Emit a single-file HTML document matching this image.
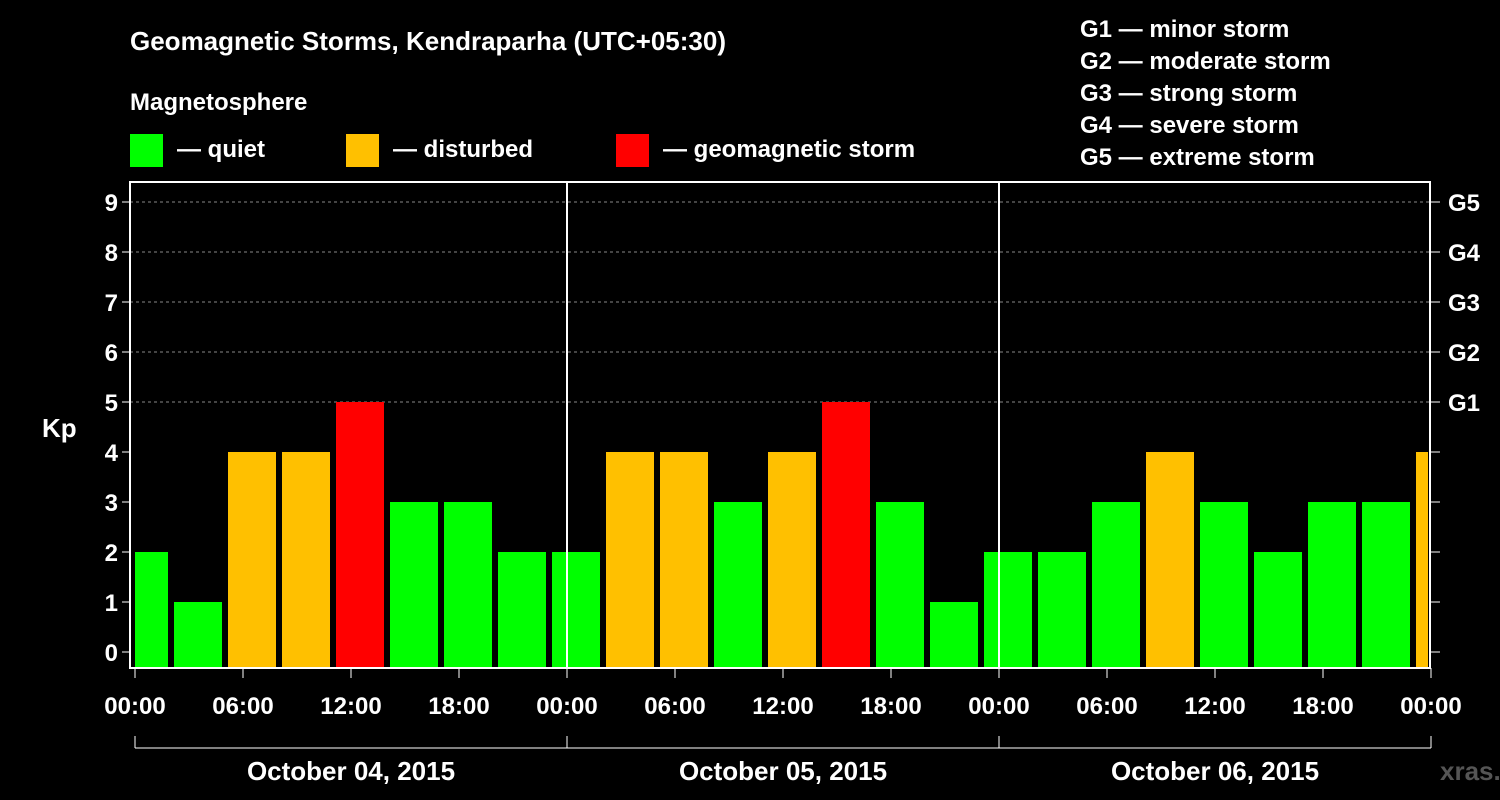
<!DOCTYPE html>
<html><head><meta charset="utf-8"><style>
html,body{margin:0;padding:0;background:#000;}
svg{display:block;font-family:"Liberation Sans",Arial,sans-serif;font-weight:bold;}
</style></head><body>
<svg id="chart" width="1500" height="800" viewBox="0 0 1500 800">
<rect width="1500" height="800" fill="#000"/>
<text x="130" y="50" fill="#fff" font-size="26">Geomagnetic Storms, Kendraparha (UTC+05:30)</text>
<text x="130" y="110" fill="#fff" font-size="24">Magnetosphere</text>
<g><rect x="130" y="134" width="33" height="33" fill="#00ff00"/><text x="177" y="157" fill="#fff" font-size="24">— quiet</text></g>
<g><rect x="346" y="134" width="33" height="33" fill="#ffc000"/><text x="393" y="157" fill="#fff" font-size="24">— disturbed</text></g>
<g><rect x="616" y="134" width="33" height="33" fill="#ff0000"/><text x="663" y="157" fill="#fff" font-size="24">— geomagnetic storm</text></g>
<g font-size="24" fill="#fff">
<text x="1080" y="37">G1 — minor storm</text>
<text x="1080" y="69">G2 — moderate storm</text>
<text x="1080" y="101">G3 — strong storm</text>
<text x="1080" y="133">G4 — severe storm</text>
<text x="1080" y="165">G5 — extreme storm</text>
</g>
<text x="42" y="437" fill="#fff" font-size="26">Kp</text>
<text x="1440" y="780" fill="#555" font-size="26">xras.ru</text>
<g id="plot"></g>
</svg>
<script>
const kpValues=[2,1,4,4,5,3,3,2,2,4,4,3,4,5,3,1,2,2,3,4,3,2,3,3,4];
const yTicks=[0,1,2,3,4,5,6,7,8,9];
const gLabels=["G1","G2","G3","G4","G5"];
const timeLabels=["00:00","06:00","12:00","18:00","00:00","06:00","12:00","18:00","00:00","06:00","12:00","18:00","00:00"];
const dayLabels=["October 04, 2015","October 05, 2015","October 06, 2015"];
const NS="http://www.w3.org/2000/svg";
const plot=document.getElementById('plot');
const L=130,R=1430,T=182,B=668,X0=135,DAY=432;
const y=v=>652-50*v;
const xh=h=>X0+18*h;
function mk(tag,attrs,parent){const e=document.createElementNS(NS,tag);for(const k in attrs)e.setAttribute(k,attrs[k]);(parent||plot).appendChild(e);return e;}
// grid
yTicks.forEach(v=>{
 if(v>=5){const g=mk('line',{x1:L,x2:R,y1:y(v),y2:y(v),stroke:'#888','stroke-dasharray':'3,3','stroke-width':1});
 
 }
 const t=mk('text',{x:118,y:y(v)+9,fill:'#fff','font-size':24,'text-anchor':'end'});t.textContent=v;
 
 
 mk('line',{x1:122,x2:L,y1:y(v),y2:y(v),stroke:'#fff','stroke-width':1});
 mk('line',{x1:R,x2:1440,y1:y(v),y2:y(v),stroke:'#fff','stroke-width':1});
});
gLabels.forEach((g,i)=>{const t=mk('text',{x:1448,y:y(5+i)+9,fill:'#fff','font-size':24});t.textContent=g;
 
 });
// bars
kpValues.forEach((v,i)=>{
 let x1=X0-15+54*i,x2=x1+48;
 x1=Math.max(x1,X0);x2=Math.min(x2,R-2);
 const c=v>=5?'#ff0000':v>=4?'#ffc000':'#00ff00';
 const b=mk('rect',{x:x1,y:y(v),width:x2-x1,height:B-y(v),fill:c});
 
 
});
// frame
mk('rect',{x:L,y:T,width:R-L,height:B-T,fill:'none',stroke:'#fff','stroke-width':2});
[1,2].forEach(d=>mk('line',{x1:X0+DAY*d,x2:X0+DAY*d,y1:T,y2:B,stroke:'#fff','stroke-width':2}));
timeLabels.forEach((s,i)=>{const x=xh(6*i);
 mk('line',{x1:x,x2:x,y1:B,y2:B+10,stroke:'#fff','stroke-width':1});
 const t=mk('text',{x:x,y:714,fill:'#fff','font-size':24,'text-anchor':'middle'});t.textContent=s;
 
 });
mk('line',{x1:X0,x2:X0+3*DAY,y1:748,y2:748,stroke:'#fff','stroke-width':1});
for(let d=0;d<=3;d++)mk('line',{x1:X0+DAY*d,x2:X0+DAY*d,y1:736,y2:748,stroke:'#fff','stroke-width':1});
dayLabels.forEach((s,i)=>{const t=mk('text',{x:X0+DAY*i+DAY/2,y:780,fill:'#fff','font-size':26,'text-anchor':'middle'});t.textContent=s;
 
 });
</script>
</body></html>
